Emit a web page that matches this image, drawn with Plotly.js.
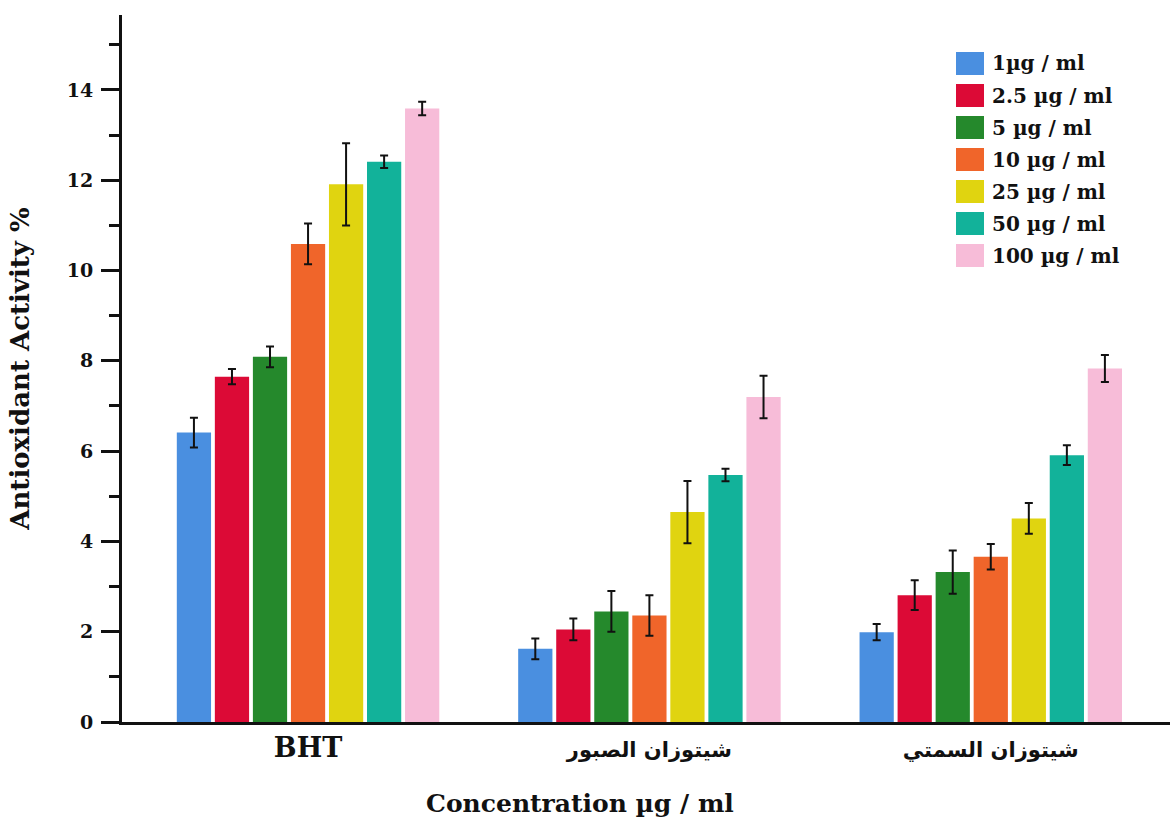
<!DOCTYPE html>
<html>
<head>
<meta charset="utf-8">
<script src="https://cdn.plot.ly/plotly-3.0.1.min.js"></script>
<style>html,body{margin:0;padding:0;background:#fff}#chart{width:1176px;height:823px}</style>
</head>
<body>
<div id="chart"></div>
<script>
const categories = ["BHT", "شيتوزان الصبور", "شيتوزان السمتي"];
const categoryLabelSizes = [27, 21, 21];
const seriesNames = ["1µg / ml", "2.5 µg / ml", "5 µg / ml", "10 µg / ml", "25 µg / ml", "50 µg / ml", "100 µg / ml"];
const conc1 = [6.41, 1.62, 1.99];
const conc2_5 = [7.65, 2.05, 2.81];
const conc5 = [8.09, 2.45, 3.32];
const conc10 = [10.59, 2.36, 3.66];
const conc25 = [11.91, 4.65, 4.51];
const conc50 = [12.41, 5.47, 5.91];
const conc100 = [13.59, 7.20, 7.83];
const err1 = [0.33, 0.23, 0.18];
const err2_5 = [0.17, 0.24, 0.33];
const err5 = [0.23, 0.45, 0.48];
const err10 = [0.45, 0.45, 0.28];
const err25 = [0.91, 0.69, 0.34];
const err50 = [0.14, 0.14, 0.22];
const err100 = [0.15, 0.47, 0.30];
const colors = ["#4a8fe0", "#dc0a36", "#25892c", "#f0652a", "#e0d410", "#12b29a", "#f7bcd8"];
const yTickVals = [0, 2, 4, 6, 8, 10, 12, 14];
const yMinorVals = [1, 3, 5, 7, 9, 11, 13, 15];
const xTitle = "Concentration µg / ml";
const yTitle = "Antioxidant Activity %";

const values = [conc1, conc2_5, conc5, conc10, conc25, conc50, conc100];
const errors = [err1, err2_5, err5, err10, err25, err50, err100];
const serif = "DejaVu Serif, Liberation Serif, serif";

const traces = values.map((v, i) => ({
  type: "bar",
  name: seriesNames[i],
  x: categories,
  y: v,
  marker: {color: colors[i]},
  error_y: {type: "data", array: errors[i], visible: true, color: "#111", thickness: 2, width: 4}
}));

// Custom legend (large swatches) in paper coordinates
const W = 1176, H = 823, ML = 122, MR = 6, MT = 15, MB = 101;
const PW = W - ML - MR, PH = H - MT - MB;
const px = x => (x - ML) / PW;
const py = y => (H - MB - y) / PH;
const legTop = 52, legStep = 32, swW = 28, swH = 23, swX = 956, txtX = 990;
const shapes = colors.map((c, i) => ({
  type: "rect", xref: "paper", yref: "paper",
  x0: px(swX), x1: px(swX + swW),
  y0: py(legTop + i * legStep + swH), y1: py(legTop + i * legStep),
  fillcolor: c, line: {width: 0}
}));
const annotations = seriesNames.map((n, i) => ({
  xref: "paper", yref: "paper",
  x: px(txtX), y: py(legTop + i * legStep + swH / 2),
  xanchor: "left", yanchor: "middle", showarrow: false,
  text: n, font: {family: serif, size: 20, color: "#111", weight: "bold"}
}));
annotations.push({
  xref: "paper", yref: "paper",
  x: px(580), y: py(803),
  xanchor: "center", yanchor: "middle", showarrow: false,
  text: xTitle, font: {family: serif, size: 25, color: "#111", weight: "bold"}
});

const layout = {
  width: W, height: H,
  paper_bgcolor: "#fff", plot_bgcolor: "#fff",
  margin: {l: ML, r: MR, t: MT, b: MB},
  barmode: "group",
  bargap: 0.22,
  bargroupgap: 0.1,
  showlegend: false,
  shapes: shapes,
  annotations: annotations,
  xaxis: {
    type: "category",
    range: [-0.545, 2.525],
    showline: true, linecolor: "#111", linewidth: 3,
    ticks: "", showgrid: false, zeroline: false,
    tickvals: categories,
    ticktext: categories.map((c, i) => '<span style="font-size:' + categoryLabelSizes[i] + 'px">' + c + '</span>'),
    ticklabelstandoff: 7,
    tickfont: {family: serif + ", DejaVu Sans", size: 21, color: "#111", weight: "bold"}
  },
  yaxis: {
    range: [0, 15.66],
    showline: true, linecolor: "#111", linewidth: 3,
    ticks: "outside", ticklen: 18, tickwidth: 3, tickcolor: "#111",
    tickvals: yTickVals,
    minor: {tickvals: yMinorVals, ticks: "outside", ticklen: 10, tickwidth: 3, tickcolor: "#111"},
    ticklabelstandoff: 4,
    showgrid: false, zeroline: false,
    tickfont: {family: serif, size: 19, color: "#111", weight: "bold"},
    title: {text: yTitle, font: {family: serif, size: 26, color: "#111", weight: "bold"}, standoff: 30}
  }
};

Plotly.newPlot("chart", traces, layout, {displayModeBar: false, staticPlot: true});
</script>
</body>
</html>
